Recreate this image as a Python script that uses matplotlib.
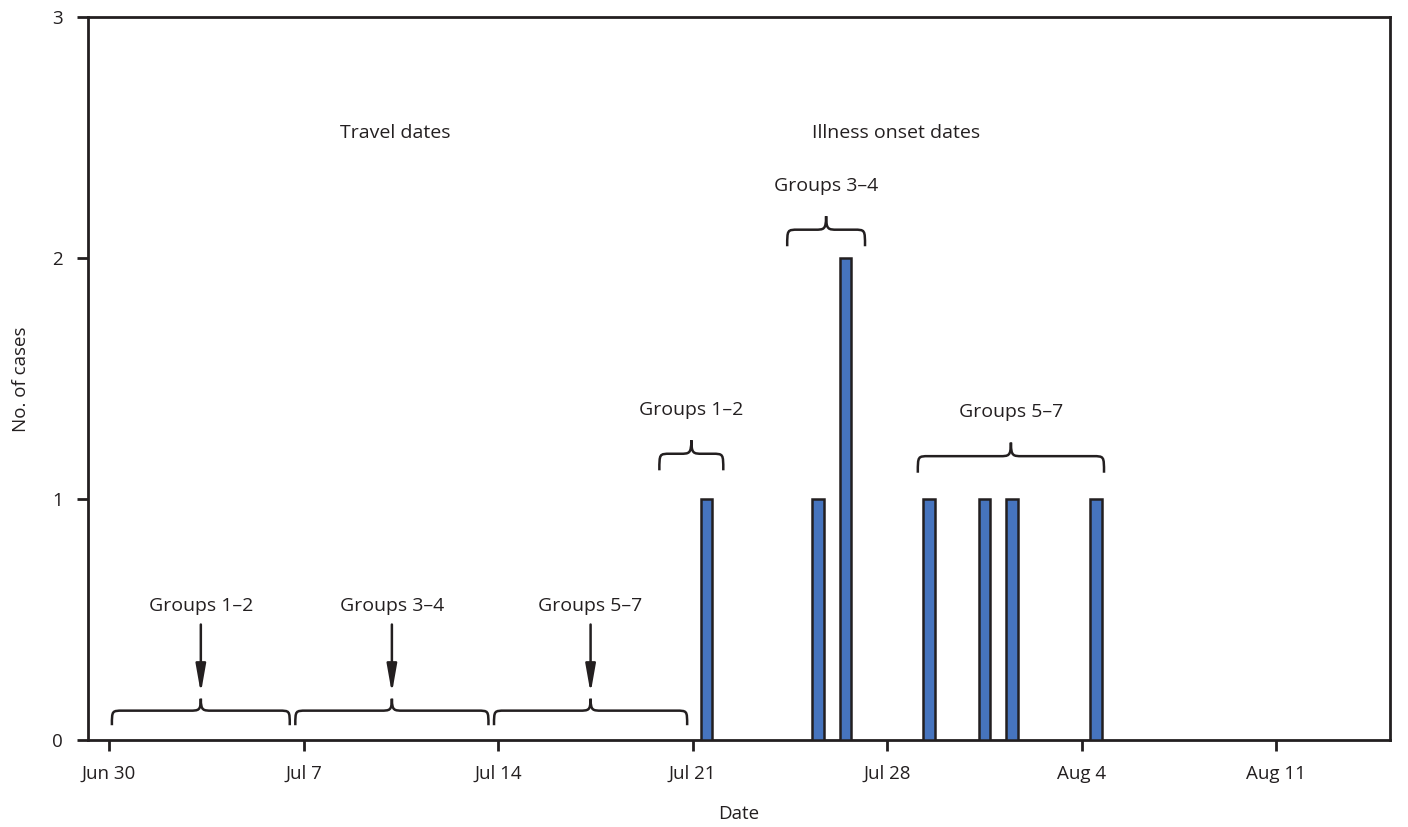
import matplotlib
matplotlib.use("Agg")
import matplotlib.pyplot as plt
from matplotlib.path import Path
import matplotlib.patches as mpatches

# day offsets from Jun 30
tick_days = [0, 7, 14, 21, 28, 35, 42]
tick_labels = ["Jun 30", "Jul 7", "Jul 14", "Jul 21", "Jul 28", "Aug 4", "Aug 11"]

onset_days = [21, 25, 26, 29, 31, 32, 35]
onset_cases = [1, 1, 2, 1, 1, 1, 1]

travel_groups = ["Groups 1\u20132", "Groups 3\u20134", "Groups 5\u20137"]
travel_start = [0.1, 6.7, 13.85]
travel_end = [6.5, 13.65, 20.8]

onset_groups = ["Groups 1\u20132", "Groups 3\u20134", "Groups 5\u20137"]
onset_start = [19.8, 24.4, 29.1]
onset_end = [22.1, 27.2, 35.8]
onset_level = [1.12, 2.05, 1.11]

INK = "#231f20"
BAR = "#4674be"


def brace(ax, x0, x1, y0, h=0.1, r=0.4, lw=1.8):
    xm = (x0 + x1) / 2
    y1 = y0 + h * 0.55
    y2 = y0 + h
    verts = [
        (x0, y0),
        (x0, y1), (x0, y1), (x0 + r, y1),
        (xm - r, y1),
        (xm - r * 0.2, y1), (xm, y1), (xm, y2),
        (xm, y1), (xm + r * 0.2, y1), (xm + r, y1),
        (x1 - r, y1),
        (x1, y1), (x1, y1), (x1, y0),
    ]
    codes = [Path.MOVETO,
             Path.CURVE4, Path.CURVE4, Path.CURVE4,
             Path.LINETO,
             Path.CURVE4, Path.CURVE4, Path.CURVE4,
             Path.CURVE4, Path.CURVE4, Path.CURVE4,
             Path.LINETO,
             Path.CURVE4, Path.CURVE4, Path.CURVE4]
    ax.add_patch(mpatches.PathPatch(Path(verts, codes), facecolor="none",
                                    edgecolor=INK, lw=lw, capstyle="butt"))
    return xm, y2


plt.rcParams["font.family"] = ["Open Sans", "DejaVu Sans"]

fig = plt.figure(figsize=(14.08, 8.27), dpi=100)
ax = fig.add_axes([0.0625, 0.105, 0.9245, 0.874])

ax.bar([d + 0.5 for d in onset_days], onset_cases, width=0.42,
       color=BAR, edgecolor=INK, linewidth=1.8, zorder=3)

ax.set_xlim(-0.76, 46.08)
ax.set_ylim(0, 3)
ax.set_xticks(tick_days)
ax.set_xticklabels(tick_labels)
ax.set_yticks([0, 1, 2, 3])
ax.tick_params(axis="both", direction="out", length=8, width=2,
               color=INK, labelsize=13.5, labelcolor=INK, pad=10)
for s in ax.spines.values():
    s.set_linewidth(2)
    s.set_color(INK)

ax.set_xlabel("Date", fontsize=13.5, color=INK, labelpad=16)
ax.set_ylabel("No. of cases", fontsize=13.5, color=INK, labelpad=16)

# travel dates
for name, a, b in zip(travel_groups, travel_start, travel_end):
    xm, ytip = brace(ax, a, b, 0.062, h=0.11)
    ax.annotate("", xy=(xm, 0.195), xytext=(xm, 0.48),
                arrowprops=dict(arrowstyle="-|>,head_length=0.85,head_width=0.15",
                                color=INK, lw=1.8, mutation_scale=20,
                                shrinkA=0, shrinkB=0))
    ax.text(xm, 0.555, name, ha="center", va="center", fontsize=14, color=INK)

# illness onset dates
for name, a, b, lvl in zip(onset_groups, onset_start, onset_end, onset_level):
    xm, ytip = brace(ax, a, b, lvl, h=0.125)
    ax.text(xm, lvl + 0.25, name, ha="center", va="center", fontsize=14, color=INK)

ax.text(10.3, 2.52, "Travel dates", ha="center", va="center", fontsize=14, color=INK)
ax.text(28.3, 2.52, "Illness onset dates", ha="center", va="center", fontsize=14, color=INK)

fig.savefig("out.png", dpi=100, facecolor="white")
